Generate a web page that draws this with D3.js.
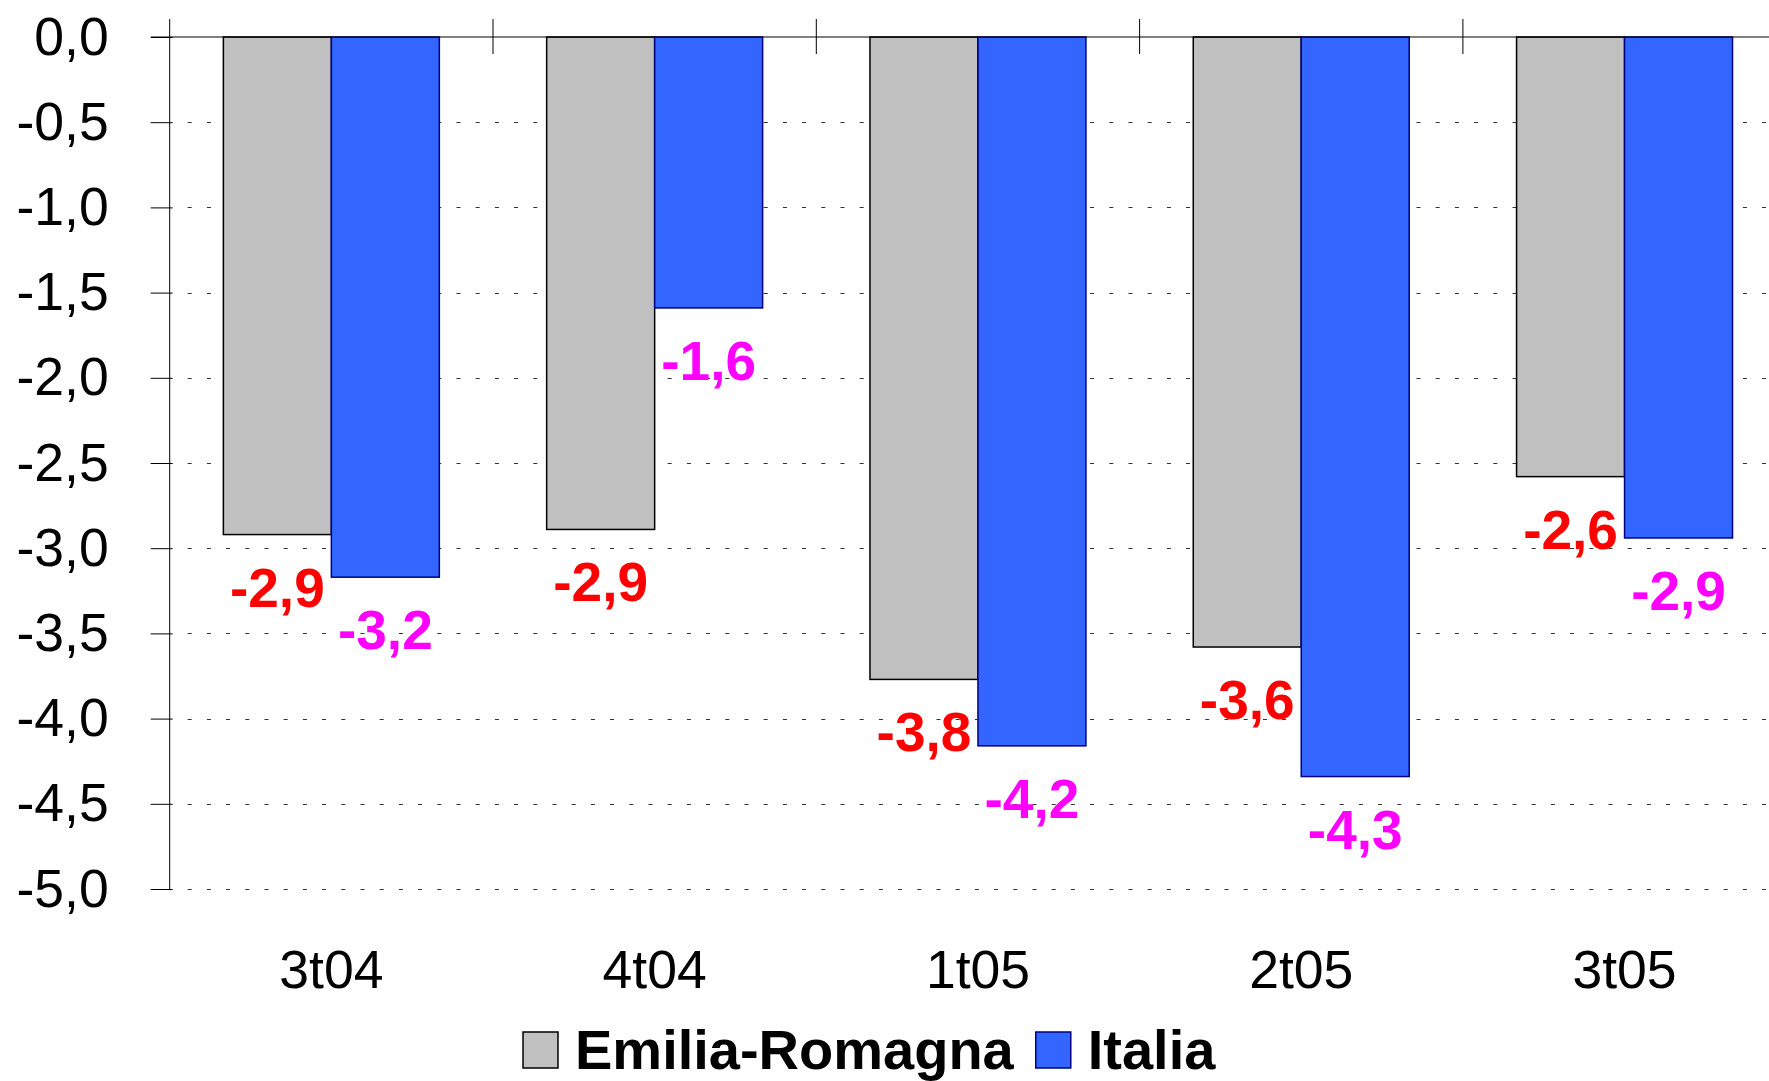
<!DOCTYPE html>
<html><head><meta charset="utf-8">
<script src="https://cdn.jsdelivr.net/npm/d3@7"></script>
<style>
html,body{margin:0;padding:0;background:#fff;overflow:hidden}
svg{display:block;font-family:"Liberation Sans",Arial,sans-serif}
</style></head>
<body>
<svg id="chart" width="1769" height="1081"></svg>
<script>
const categories = ["3t04","4t04","1t05","2t05","3t05"];
const seriesNames = ["Emilia-Romagna","Italia"];
const emiliaRomagna = [-2.92,-2.89,-3.77,-3.58,-2.58];
const italia = [-3.17,-1.59,-4.16,-4.34,-2.94];
const yTicks = [0,-0.5,-1,-1.5,-2,-2.5,-3,-3.5,-4,-4.5,-5];
const seriesColors = ["#C0C0C0","#3366FF"];
const seriesStroke = ["#000000","#000080"];
const labelColors = ["#FF0000","#FF00FF"];

const svg = d3.select("#chart");
const W = 1769;
const left = 169.7, bandW = 323.3;
const x0 = d3.scaleBand().domain(categories).range([left, left + bandW*categories.length]).padding(0);
const x1 = d3.scaleBand().domain(seriesNames).range([0, x0.bandwidth()]).paddingInner(0).paddingOuter(0.497);
const y = d3.scaleLinear().domain([0,-5]).range([37,889]);

const locale = d3.formatLocale({decimal:",", thousands:".", grouping:[3], currency:["","€"], minus:"-"});
const fmt = locale.format(".1f");

// gridlines
svg.append("g").selectAll("line").data(yTicks.filter(d=>d!==0)).join("line")
  .attr("x1", left+18).attr("x2", W)
  .attr("y1", d=>Math.round(y(d))+0.5).attr("y2", d=>Math.round(y(d))+0.5)
  .attr("stroke","#333").attr("stroke-width",1).attr("stroke-dasharray","4,15.2");

// y axis
const yAxis = d3.axisLeft(y).tickValues(yTicks).tickSize(19).tickPadding(42).tickFormat(d=>fmt(d));
const gy = svg.append("g").attr("transform",`translate(${left},0)`).call(yAxis);
gy.select(".domain").remove();
gy.selectAll(".tick line").attr("x2",-19).attr("x1",3).attr("stroke","#000");
gy.selectAll(".tick text").attr("font-size",53.5).attr("fill","#000")
  .attr("font-family","'Liberation Sans',Arial,sans-serif").attr("dy","0.32em");
svg.append("line").attr("x1",left).attr("x2",left).attr("y1",19).attr("y2",889).attr("stroke","#000");

// bars
const data = categories.map((c,i)=>({cat:c, vals:[emiliaRomagna[i], italia[i]]}));
const groups = svg.append("g").selectAll("g").data(data).join("g")
  .attr("transform", d=>`translate(${x0(d.cat)},0)`);
groups.selectAll("rect").data(d=>d.vals.map((v,j)=>({v, j, s:seriesNames[j]}))).join("rect")
  .attr("x", d=>x1(d.s)).attr("width", x1.bandwidth())
  .attr("y", y(0)).attr("height", d=>y(d.v)-y(0))
  .attr("fill", d=>seriesColors[d.j]).attr("stroke", d=>seriesStroke[d.j]).attr("stroke-width",1.5);
groups.selectAll("text").data(d=>d.vals.map((v,j)=>({v, j, s:seriesNames[j]}))).join("text")
  .attr("x", d=>x1(d.s)+x1.bandwidth()/2).attr("y", d=>y(d.v)+72)
  .attr("text-anchor","middle").attr("font-size",55).attr("font-weight","bold")
  .attr("fill", d=>labelColors[d.j]).text(d=>fmt(d.v));

// zero line
svg.append("line").attr("x1",151).attr("x2",W).attr("y1",y(0)).attr("y2",y(0)).attr("stroke","#000");

// category ticks
const bounds = categories.map(c=>x0(c)).concat([x0(categories[categories.length-1])+x0.bandwidth()]);
svg.append("g").selectAll("line").data(bounds.slice(1)).join("line")
  .attr("x1",d=>d).attr("x2",d=>d).attr("y1",19).attr("y2",54).attr("stroke","#000");

// x labels
svg.append("g").selectAll("text").data(categories).join("text")
  .attr("x", d=>x0(d)+x0.bandwidth()/2).attr("y",988)
  .attr("text-anchor","middle").attr("font-size",53.5).attr("fill","#000").text(d=>d);

// legend
const leg = svg.append("g");
let lx = 523;
seriesNames.forEach((n,i)=>{
  leg.append("rect").attr("x",lx).attr("y",1032).attr("width",35).attr("height",36)
    .attr("fill",seriesColors[i]).attr("stroke",seriesStroke[i]).attr("stroke-width",1.5);
  const t = leg.append("text").attr("x",lx+52).attr("y",1069).attr("font-size",56)
    .attr("font-weight","bold").attr("fill","#000").text(n);
  lx = lx + 52 + t.node().getComputedTextLength() + 22;
});
</script>
</body></html>
